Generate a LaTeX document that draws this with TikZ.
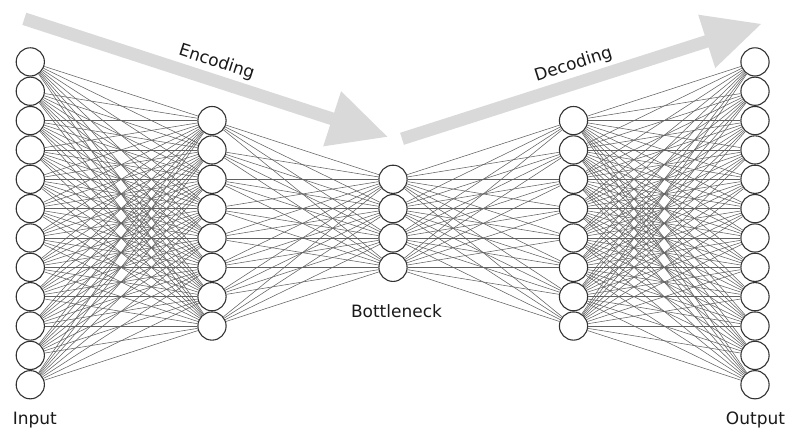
\documentclass[tikz,border=0pt]{standalone}
\usepackage{fontspec}
\setmainfont{DejaVu Sans}
\usetikzlibrary{calc}
\begin{document}
\begin{tikzpicture}[x=1bp,y=-1bp,
  neuron/.style={circle,draw=black!80,line width=1.1bp,fill=white,minimum size=28.2bp,inner sep=0pt},
  conn/.style={draw=black!62,line width=0.55bp},
  arrowfill/.style={fill=black!15},
  lbl/.style={font=\fontsize{17bp}{20bp}\selectfont,text=black!90,inner sep=0pt}]
\useasboundingbox (0,0) rectangle (787,428);
\def\yc{223.3}
\def\sp{29.35}
% arrows
\coordinate (eS) at (24.3,18.8);
\coordinate (eT) at (387.3,136.7);
\coordinate (eB) at ($(eT)!58bp!(eS)$);
\fill[arrowfill] ($(eS)!6.4bp!90:(eT)$) -- ($(eB)!6.4bp!-90:(eS)$) -- ($(eB)!29bp!-90:(eS)$) -- (eT)
  -- ($(eB)!29bp!90:(eS)$) -- ($(eB)!6.4bp!90:(eS)$) -- ($(eS)!6.4bp!-90:(eT)$) -- cycle;
\coordinate (dS) at (402,138.8);
\coordinate (dT) at (761,24);
\coordinate (dB) at ($(dT)!57bp!(dS)$);
\fill[arrowfill] ($(dS)!6.3bp!90:(dT)$) -- ($(dB)!6.3bp!-90:(dS)$) -- ($(dB)!28bp!-90:(dS)$) -- (dT)
  -- ($(dB)!28bp!90:(dS)$) -- ($(dB)!6.3bp!90:(dS)$) -- ($(dS)!6.3bp!-90:(dT)$) -- cycle;
\node[lbl,rotate=-18] (enc) at (216.5,62.5) {Encoding};
\node[lbl,rotate=17.7] (dec) at (573.5,64.5) {Decoding};
% neurons
\foreach \i in {1,...,12} {
  \node[neuron] (in\i) at (30.3,{\yc+(\i-6.5)*\sp}) {};
  \node[neuron] (out\i) at (755,{\yc+(\i-6.5)*\sp}) {};
}
\foreach \i in {1,...,8} {
  \node[neuron] (h\i) at (212,{\yc+(\i-4.5)*\sp}) {};
  \node[neuron] (d\i) at (573.5,{\yc+(\i-4.5)*\sp}) {};
}
\foreach \i in {1,...,4} {
  \node[neuron] (b\i) at (393,{\yc+(\i-2.5)*\sp}) {};
}
% connections
\foreach \i in {1,...,12} \foreach \j in {1,...,8} {
  \draw[conn] (in\i) -- (h\j);
  \draw[conn] (d\j) -- (out\i);
}
\foreach \i in {1,...,8} \foreach \j in {1,...,4} {
  \draw[conn] (h\i) -- (b\j);
  \draw[conn] (b\j) -- (d\i);
}
% labels
\node[lbl,anchor=base] (inlbl) at (34.8,424) {Input};
\node[lbl,anchor=base] (outlbl) at (755.5,424) {Output};
\node[lbl,anchor=base] (blbl) at (396.5,317.7) {Bottleneck};
\end{tikzpicture}
\end{document}
